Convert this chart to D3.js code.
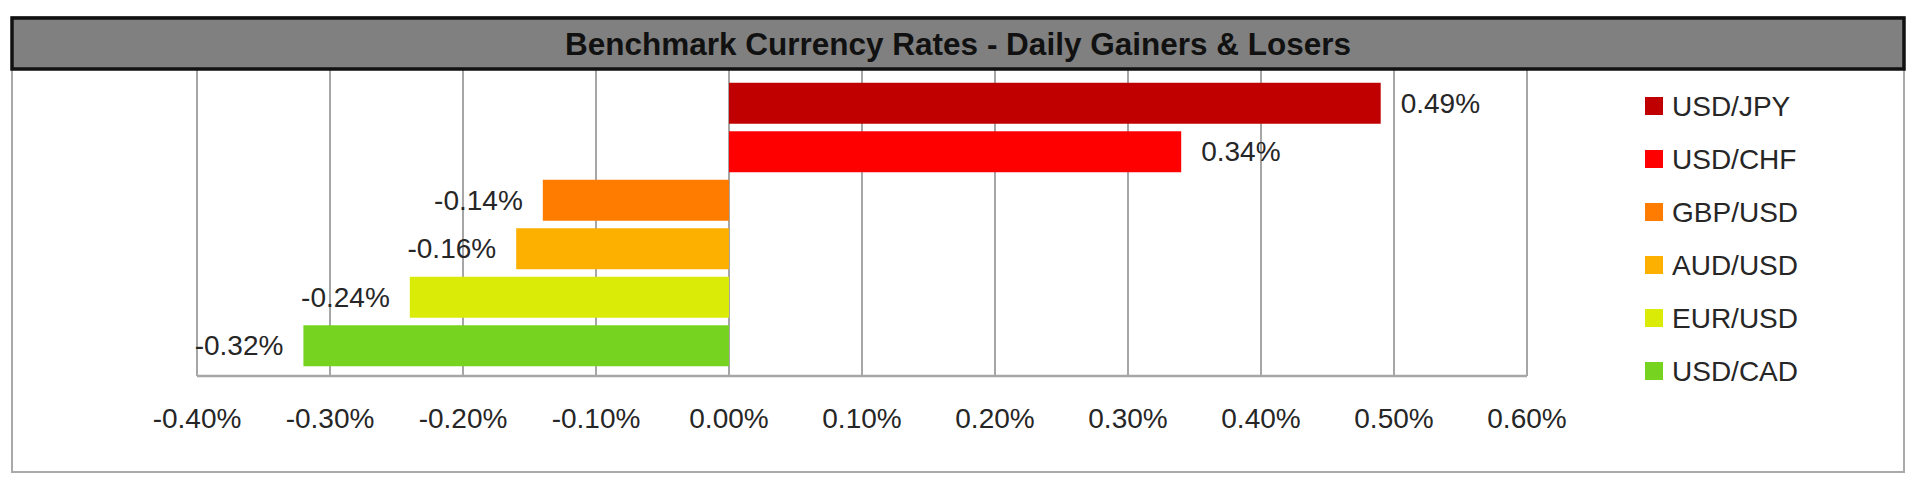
<!DOCTYPE html>
<html>
<head>
<meta charset="utf-8">
<script src="https://cdn.jsdelivr.net/npm/d3@7"></script>
<style>
  html, body { margin: 0; padding: 0; background: #fff; }
  svg { display: block; }
  text { font-family: "Liberation Sans", Arial, sans-serif; }
</style>
</head>
<body>
<svg id="chart" width="1924" height="498"></svg>
<script>
const title = "Benchmark Currency Rates - Daily Gainers & Losers";
const categories = ["USD/JPY", "USD/CHF", "GBP/USD", "AUD/USD", "EUR/USD", "USD/CAD"];
const values = [0.49, 0.34, -0.14, -0.16, -0.24, -0.32];   // percent
const colors = ["#C00000", "#FF0000", "#FF7C00", "#FDB000", "#DAEB08", "#76D421"];
const tickValues = [-0.4, -0.3, -0.2, -0.1, 0.0, 0.1, 0.2, 0.3, 0.4, 0.5, 0.6];

const svg = d3.select("#chart");
const fmt = d => d3.format(".2f")(d).replace("\u2212", "-") + "%";

// outer frame
svg.append("rect").attr("x", 12).attr("y", 17).attr("width", 1892).attr("height", 455)
  .attr("fill", "#fff").attr("stroke", "#a9a9a9").attr("stroke-width", 2);

// scales
const x = d3.scaleLinear().domain([-0.4, 0.6]).range([197, 1527]);
const y = d3.scaleBand().domain(categories).range([79, 370]).paddingInner(0.155).paddingOuter(0.0775);
const plotTop = 70, plotBottom = 376;

// gridlines
svg.append("g").selectAll("line").data(tickValues).join("line")
  .attr("x1", d => x(d)).attr("x2", d => x(d))
  .attr("y1", plotTop).attr("y2", plotBottom)
  .attr("stroke", "#a6a6a6").attr("stroke-width", 2);

// bottom axis line
svg.append("line").attr("x1", x(-0.4)).attr("x2", x(0.6))
  .attr("y1", plotBottom).attr("y2", plotBottom)
  .attr("stroke", "#a6a6a6").attr("stroke-width", 2.5);

// tick labels
svg.append("g").selectAll("text").data(tickValues).join("text")
  .attr("x", d => x(d)).attr("y", 418)
  .attr("text-anchor", "middle").attr("dominant-baseline", "central")
  .attr("font-size", 28).attr("fill", "#262626")
  .text(d => fmt(d));

// bars
const data = categories.map((c, i) => ({ c, v: values[i], col: colors[i] }));
svg.append("g").selectAll("rect").data(data).join("rect")
  .attr("x", d => x(Math.min(0, d.v)))
  .attr("width", d => Math.abs(x(d.v) - x(0)))
  .attr("y", d => y(d.c)).attr("height", y.bandwidth())
  .attr("fill", d => d.col);

// value labels
svg.append("g").selectAll("text").data(data).join("text")
  .attr("x", d => d.v >= 0 ? x(d.v) + 20 : x(d.v) - 20)
  .attr("y", d => y(d.c) + y.bandwidth() / 2)
  .attr("text-anchor", d => d.v >= 0 ? "start" : "end")
  .attr("dominant-baseline", "central")
  .attr("font-size", 28).attr("fill", "#262626")
  .text(d => fmt(d.v));

// title bar
svg.append("rect").attr("x", 12).attr("y", 18).attr("width", 1892).attr("height", 51)
  .attr("fill", "#808080").attr("stroke", "#111").attr("stroke-width", 3.5);
svg.append("text").attr("x", 958).attr("y", 44)
  .attr("text-anchor", "middle").attr("dominant-baseline", "central")
  .attr("font-size", 31.5).attr("font-weight", "bold").attr("fill", "#111")
  .text(title);

// legend
const legend = svg.append("g").selectAll("g").data(data).join("g")
  .attr("transform", (d, i) => `translate(1645, ${106 + i * 53})`);
legend.append("rect").attr("x", 0).attr("y", -9).attr("width", 18).attr("height", 18)
  .attr("fill", d => d.col);
legend.append("text").attr("x", 27).attr("y", 0)
  .attr("dominant-baseline", "central")
  .attr("font-size", 28).attr("fill", "#262626")
  .text(d => d.c);
</script>
</body>
</html>
